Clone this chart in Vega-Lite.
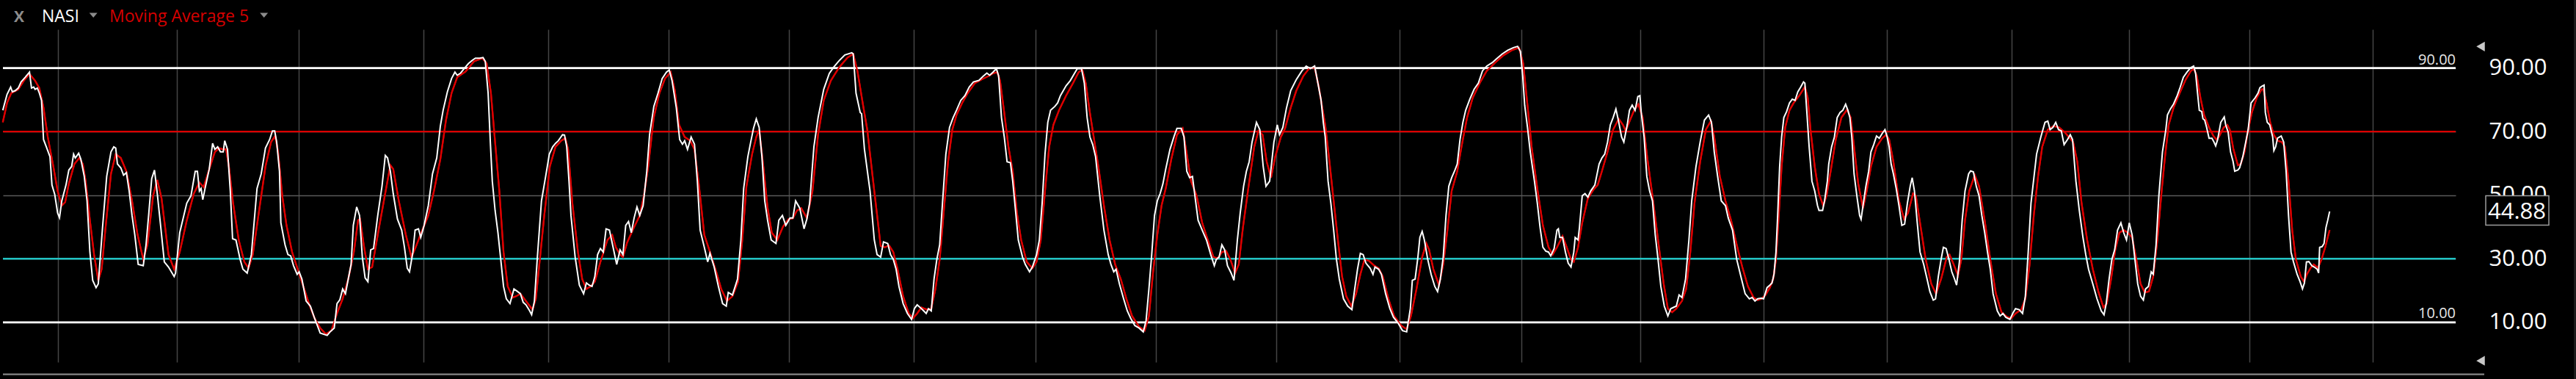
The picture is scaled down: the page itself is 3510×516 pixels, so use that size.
{
"$schema": "https://vega.github.io/schema/vega-lite/v6.json",
"width": 3342, "height": 453,
"autosize": {"type": "none"},
"padding": {"left": 4, "top": 40, "right": 164, "bottom": 23},
"background": "#000000",
"config": {"view": {"stroke": null}, "font": "Open Sans"},
"datasets": {
"nasi": [
{"t":3.8,"v":76.7},{"t":9.6,"v":81.7},{"t":14.5,"v":84.0},{"t":16.8,"v":82.5},{"t":21,"v":82.9},{"t":24.9,"v":83.7},{"t":28.7,"v":85.6},{"t":34.4,"v":87.1},{"t":40.2,"v":88.7},{"t":42.9,"v":83.7},{"t":45.9,"v":84.0},{"t":47.8,"v":83.3},{"t":50.9,"v":83.7},{"t":53.6,"v":82.1},{"t":56.6,"v":79.8},{"t":59.3,"v":67.5},{"t":63.1,"v":65.2},{"t":68.1,"v":62.1},{"t":70.8,"v":53.2},{"t":74.6,"v":50.2},{"t":78.5,"v":44.4},{"t":81.1,"v":42.9},{"t":84.2,"v":48.2},{"t":89.9,"v":53.2},{"t":93.8,"v":57.9},{"t":97.6,"v":59.0},{"t":100.3,"v":62.9},{"t":102.6,"v":61.7},{"t":107.2,"v":63.2},{"t":110.2,"v":61.3},{"t":114.8,"v":55.9},{"t":118.6,"v":48.2},{"t":122.5,"v":32.1},{"t":126.3,"v":23.2},{"t":130.9,"v":20.9},{"t":133.9,"v":22.1},{"t":139.7,"v":39.8},{"t":145.4,"v":55.9},{"t":151.2,"v":63.6},{"t":155,"v":65.2},{"t":157.7,"v":64.8},{"t":160,"v":59.8},{"t":164.6,"v":58.6},{"t":168.4,"v":56.3},{"t":172.2,"v":57.1},{"t":176,"v":51.3},{"t":179.9,"v":43.6},{"t":183.7,"v":37.5},{"t":188.3,"v":28.2},{"t":195.2,"v":27.8},{"t":199,"v":34.4},{"t":202.8,"v":44.4},{"t":206.7,"v":55.2},{"t":210.5,"v":57.9},{"t":214.3,"v":50.5},{"t":218.1,"v":42.1},{"t":223.9,"v":29.0},{"t":229.6,"v":27.4},{"t":237.3,"v":24.4},{"t":239.2,"v":25.5},{"t":244.9,"v":38.2},{"t":254.5,"v":47.5},{"t":260.2,"v":49.8},{"t":266,"v":57.5},{"t":269,"v":57.5},{"t":271.7,"v":51.3},{"t":274,"v":52.1},{"t":276.3,"v":48.6},{"t":279.4,"v":52.1},{"t":285.1,"v":58.2},{"t":289.7,"v":66.3},{"t":292.8,"v":64.4},{"t":296.6,"v":65.2},{"t":300.4,"v":63.6},{"t":304.2,"v":63.6},{"t":306.2,"v":67.1},{"t":310,"v":64.4},{"t":313.8,"v":51.3},{"t":316.9,"v":36.3},{"t":321.5,"v":35.9},{"t":327.2,"v":29.8},{"t":331,"v":26.7},{"t":336.8,"v":25.5},{"t":342.5,"v":31.3},{"t":350.2,"v":52.1},{"t":355.9,"v":56.7},{"t":361.7,"v":64.8},{"t":367.4,"v":67.5},{"t":371.2,"v":70.2},{"t":374.3,"v":70.2},{"t":377,"v":66.7},{"t":380.8,"v":57.5},{"t":382.7,"v":41.3},{"t":388.4,"v":34.4},{"t":392.3,"v":31.3},{"t":396.1,"v":30.9},{"t":400,"v":27.8},{"t":404.9,"v":25.1},{"t":407.6,"v":25.9},{"t":411.4,"v":23.6},{"t":417.1,"v":16.7},{"t":422.9,"v":15.1},{"t":428.6,"v":11.3},{"t":436.3,"v":6.6},{"t":445.8,"v":5.9},{"t":449.7,"v":7.0},{"t":455.4,"v":8.2},{"t":459.2,"v":15.9},{"t":463.1,"v":17.1},{"t":466.9,"v":20.5},{"t":470.7,"v":19.0},{"t":474.5,"v":23.6},{"t":478.4,"v":28.2},{"t":481.4,"v":40.5},{"t":486,"v":46.3},{"t":489.9,"v":43.6},{"t":493.7,"v":30.5},{"t":497.5,"v":24.0},{"t":501.3,"v":22.8},{"t":505.1,"v":32.8},{"t":509,"v":33.2},{"t":514.7,"v":43.6},{"t":520.5,"v":52.8},{"t":525,"v":62.5},{"t":528.1,"v":61.7},{"t":531.9,"v":57.5},{"t":535.8,"v":50.5},{"t":541.5,"v":42.5},{"t":547.3,"v":39.0},{"t":551.1,"v":33.6},{"t":554.9,"v":27.0},{"t":558,"v":25.9},{"t":562.6,"v":32.1},{"t":565.6,"v":39.0},{"t":570.2,"v":39.4},{"t":573.3,"v":36.7},{"t":577.9,"v":40.5},{"t":583.6,"v":46.7},{"t":589.3,"v":56.7},{"t":595.1,"v":61.7},{"t":600,"v":71.7},
{"t":603.8,"v":76.7},{"t":609.6,"v":82.5},{"t":615.3,"v":86.7},{"t":619.9,"v":88.7},{"t":623,"v":87.7},{"t":627.6,"v":88.4},{"t":632.5,"v":89.8},{"t":638.3,"v":91.4},{"t":644,"v":92.5},{"t":647.8,"v":93.1},{"t":653.6,"v":93.1},{"t":658.2,"v":93.3},{"t":661.2,"v":92.1},{"t":665.1,"v":82.1},{"t":668.1,"v":66.7},{"t":670.8,"v":54.4},{"t":674.6,"v":45.2},{"t":678.5,"v":38.2},{"t":682.3,"v":29.8},{"t":686.1,"v":21.3},{"t":689.9,"v":17.4},{"t":694.9,"v":15.9},{"t":700.3,"v":20.5},{"t":705.2,"v":19.7},{"t":709.1,"v":19.0},{"t":712.9,"v":16.3},{"t":716.7,"v":15.5},{"t":721.7,"v":13.6},{"t":724.4,"v":12.4},{"t":728.2,"v":16.7},{"t":732,"v":29.8},{"t":737.8,"v":48.2},{"t":743.5,"v":55.9},{"t":748.5,"v":62.9},{"t":753.1,"v":65.2},{"t":756.9,"v":66.3},{"t":760.7,"v":67.1},{"t":766.5,"v":69.0},{"t":769.2,"v":68.9},{"t":772.2,"v":65.2},{"t":775.3,"v":54.4},{"t":778,"v":43.6},{"t":783.7,"v":30.5},{"t":789.4,"v":21.7},{"t":795.2,"v":19.0},{"t":799,"v":22.4},{"t":802.8,"v":21.7},{"t":806.7,"v":21.3},{"t":810.5,"v":24.4},{"t":814.3,"v":31.3},{"t":818.1,"v":33.2},{"t":822,"v":32.1},{"t":825.8,"v":39.4},{"t":830.4,"v":39.0},{"t":835.4,"v":33.6},{"t":840.3,"v":28.2},{"t":844.9,"v":32.8},{"t":848.8,"v":31.3},{"t":852.6,"v":40.5},{"t":856.4,"v":41.7},{"t":860.2,"v":38.2},{"t":864,"v":42.8},{"t":867.9,"v":46.3},{"t":871.7,"v":43.6},{"t":876.3,"v":46.7},{"t":881.3,"v":57.5},{"t":885.1,"v":69.0},{"t":890.9,"v":77.9},{"t":896.6,"v":82.1},{"t":902.3,"v":86.7},{"t":908.1,"v":88.7},{"t":911.9,"v":89.4},{"t":915.7,"v":86.0},{"t":921.5,"v":77.5},{"t":926.1,"v":67.5},{"t":929.9,"v":66.0},{"t":932.9,"v":67.1},{"t":936.8,"v":64.4},{"t":941.7,"v":68.3},{"t":946.3,"v":66.0},{"t":950.2,"v":54.4},{"t":954,"v":39.0},{"t":959.7,"v":33.6},{"t":964.3,"v":29.0},{"t":967.4,"v":31.7},{"t":973.1,"v":27.4},{"t":978.9,"v":21.3},{"t":984.6,"v":15.9},{"t":989.6,"v":15.1},{"t":992.3,"v":19.4},{"t":998,"v":18.6},{"t":1004.9,"v":23.6},{"t":1009.5,"v":35.9},{"t":1013.3,"v":52.1},{"t":1019,"v":62.1},{"t":1022.9,"v":66.7},{"t":1026.7,"v":71.0},{"t":1030.5,"v":74.0},{"t":1034.4,"v":71.3},{"t":1038.2,"v":62.1},{"t":1042,"v":48.2},{"t":1045.9,"v":42.1},{"t":1050.8,"v":35.9},{"t":1057.3,"v":34.8},{"t":1061.2,"v":42.1},{"t":1066.1,"v":43.6},{"t":1070.7,"v":40.5},{"t":1076.5,"v":42.8},{"t":1080.3,"v":42.8},{"t":1084.1,"v":48.2},{"t":1089.8,"v":45.9},{"t":1095.6,"v":39.4},{"t":1099.4,"v":42.5},{"t":1103.2,"v":47.5},{"t":1109,"v":65.2},{"t":1114.7,"v":74.4},{"t":1122.4,"v":83.3},{"t":1130,"v":88.3},{"t":1135.8,"v":90.2},{"t":1143.4,"v":92.3},{"t":1151.1,"v":94.1},{"t":1160.7,"v":94.8},{"t":1162.6,"v":94.4},{"t":1166.4,"v":82.1},{"t":1172.1,"v":76.0},{"t":1174,"v":75.6},{"t":1177.9,"v":64.4},{"t":1185.5,"v":51.3},{"t":1191.3,"v":35.9},{"t":1195.1,"v":31.3},{"t":1200,"v":30.5},
{"t":1203.8,"v":35.3},{"t":1209.6,"v":34.8},{"t":1213.4,"v":31.3},{"t":1217.2,"v":29.8},{"t":1221,"v":26.7},{"t":1224.9,"v":21.3},{"t":1230.6,"v":15.9},{"t":1236.4,"v":12.8},{"t":1242.1,"v":10.9},{"t":1245.9,"v":14.3},{"t":1249.7,"v":15.5},{"t":1253.6,"v":14.7},{"t":1257.4,"v":13.9},{"t":1262,"v":12.8},{"t":1265.1,"v":14.3},{"t":1268.9,"v":13.6},{"t":1272.7,"v":23.6},{"t":1276.5,"v":29.8},{"t":1280.4,"v":34.4},{"t":1284.2,"v":47.5},{"t":1288.8,"v":62.9},{"t":1293.8,"v":71.3},{"t":1298.7,"v":74.4},{"t":1303.3,"v":76.7},{"t":1309.1,"v":79.8},{"t":1314.8,"v":81.3},{"t":1320.6,"v":84.0},{"t":1326.3,"v":85.6},{"t":1333.9,"v":86.1},{"t":1339.7,"v":87.4},{"t":1344.7,"v":88.4},{"t":1348.5,"v":87.7},{"t":1353.1,"v":88.7},{"t":1357.7,"v":89.8},{"t":1360.7,"v":87.5},{"t":1364.6,"v":74.4},{"t":1368.4,"v":68.3},{"t":1372.2,"v":60.5},{"t":1376.8,"v":60.2},{"t":1379.9,"v":54.4},{"t":1383.7,"v":45.2},{"t":1387.5,"v":35.9},{"t":1393.3,"v":30.5},{"t":1397.1,"v":28.2},{"t":1402.8,"v":25.9},{"t":1406.7,"v":27.4},{"t":1412.4,"v":31.3},{"t":1416.2,"v":35.9},{"t":1420,"v":47.5},{"t":1423.9,"v":62.9},{"t":1427.7,"v":72.9},{"t":1431.5,"v":76.7},{"t":1437.3,"v":77.9},{"t":1441.1,"v":79.0},{"t":1444.9,"v":81.3},{"t":1452.6,"v":84.4},{"t":1458.3,"v":86.0},{"t":1464,"v":88.3},{"t":1467.9,"v":89.8},{"t":1473.6,"v":89.8},{"t":1477.5,"v":85.2},{"t":1481.3,"v":74.4},{"t":1485.1,"v":68.3},{"t":1488.9,"v":65.9},{"t":1492.8,"v":62.1},{"t":1498.5,"v":49.8},{"t":1504.2,"v":39.0},{"t":1510,"v":31.3},{"t":1513.8,"v":28.2},{"t":1517.6,"v":25.9},{"t":1520.7,"v":26.7},{"t":1525.3,"v":22.1},{"t":1531,"v":17.4},{"t":1536,"v":13.6},{"t":1540.6,"v":11.3},{"t":1546.3,"v":9.0},{"t":1552.1,"v":8.2},{"t":1557.8,"v":7.0},{"t":1561.6,"v":10.5},{"t":1565.5,"v":20.5},{"t":1569.3,"v":31.3},{"t":1573.1,"v":43.6},{"t":1576.9,"v":48.2},{"t":1580.8,"v":50.5},{"t":1584.6,"v":53.6},{"t":1588.4,"v":58.2},{"t":1594.2,"v":64.4},{"t":1599.9,"v":68.6},{"t":1603.7,"v":71.0},{"t":1609.5,"v":71.0},{"t":1613.3,"v":68.3},{"t":1617.1,"v":57.5},{"t":1621,"v":55.5},{"t":1624.8,"v":55.9},{"t":1628.6,"v":49.0},{"t":1632.5,"v":42.1},{"t":1638.1,"v":39.0},{"t":1643.9,"v":35.9},{"t":1649.7,"v":31.3},{"t":1654.6,"v":27.8},{"t":1657.3,"v":29.8},{"t":1661.1,"v":30.5},{"t":1664.9,"v":34.4},{"t":1668.7,"v":32.8},{"t":1672.5,"v":27.8},{"t":1677.5,"v":25.5},{"t":1681.4,"v":23.2},{"t":1686,"v":35.9},{"t":1689.9,"v":44.4},{"t":1694.5,"v":52.8},{"t":1698.3,"v":57.5},{"t":1702.1,"v":60.5},{"t":1706,"v":66.7},{"t":1712,"v":72.9},{"t":1716.6,"v":70.6},{"t":1721.2,"v":59.0},{"t":1725,"v":52.8},{"t":1730,"v":54.4},{"t":1735.8,"v":66.7},{"t":1740.4,"v":72.1},{"t":1743.4,"v":69.0},{"t":1748,"v":71.3},{"t":1753,"v":77.5},{"t":1758.7,"v":82.9},{"t":1766.4,"v":86.4},{"t":1774,"v":89.1},{"t":1779.8,"v":90.6},{"t":1785.5,"v":89.8},{"t":1791.3,"v":90.6},{"t":1795.1,"v":86.0},{"t":1800,"v":80.0},
{"t":1803.1,"v":72.9},{"t":1805.7,"v":68.3},{"t":1809.6,"v":54.4},{"t":1813.4,"v":47.5},{"t":1817.2,"v":39.0},{"t":1821,"v":29.8},{"t":1824.9,"v":23.6},{"t":1830.6,"v":17.4},{"t":1836.4,"v":15.1},{"t":1842.1,"v":14.0},{"t":1845.9,"v":20.5},{"t":1849.7,"v":26.7},{"t":1853.6,"v":31.7},{"t":1857.4,"v":31.3},{"t":1861.2,"v":28.6},{"t":1867,"v":27.0},{"t":1870.8,"v":25.1},{"t":1873.5,"v":27.4},{"t":1878.5,"v":26.7},{"t":1882.3,"v":25.1},{"t":1888,"v":19.0},{"t":1893.8,"v":14.3},{"t":1898.7,"v":11.6},{"t":1905.2,"v":9.7},{"t":1911,"v":7.4},{"t":1916.7,"v":7.0},{"t":1921.7,"v":14.3},{"t":1924.4,"v":23.2},{"t":1928.2,"v":23.6},{"t":1932,"v":30.5},{"t":1934.7,"v":36.7},{"t":1937.8,"v":38.6},{"t":1940.8,"v":35.9},{"t":1945.4,"v":29.8},{"t":1950,"v":25.1},{"t":1955,"v":21.3},{"t":1958.8,"v":19.7},{"t":1962.6,"v":23.6},{"t":1966.5,"v":30.5},{"t":1970.3,"v":43.6},{"t":1974.1,"v":52.8},{"t":1978,"v":55.5},{"t":1981.8,"v":57.5},{"t":1985.6,"v":59.8},{"t":1989.4,"v":67.5},{"t":1993.3,"v":72.9},{"t":1997.1,"v":76.7},{"t":2002.8,"v":80.2},{"t":2008.6,"v":83.3},{"t":2014.3,"v":85.2},{"t":2020,"v":89.1},{"t":2025.8,"v":90.6},{"t":2033.4,"v":91.7},{"t":2039.2,"v":92.9},{"t":2046.8,"v":94.4},{"t":2054.5,"v":95.6},{"t":2062.1,"v":96.4},{"t":2067.9,"v":96.8},{"t":2071.7,"v":95.2},{"t":2074.8,"v":87.5},{"t":2077.5,"v":78.3},{"t":2081.3,"v":71.3},{"t":2085.1,"v":63.6},{"t":2090.8,"v":54.4},{"t":2094.7,"v":47.5},{"t":2098.5,"v":39.8},{"t":2102.3,"v":33.6},{"t":2106.2,"v":32.4},{"t":2110,"v":32.1},{"t":2113,"v":30.9},{"t":2117.6,"v":33.2},{"t":2121.5,"v":39.0},{"t":2123.4,"v":39.4},{"t":2125.3,"v":36.7},{"t":2129.1,"v":36.7},{"t":2133,"v":32.1},{"t":2136.8,"v":28.6},{"t":2140.6,"v":27.4},{"t":2144.4,"v":32.1},{"t":2146.3,"v":36.7},{"t":2150.2,"v":35.9},{"t":2152.1,"v":39.8},{"t":2155.9,"v":49.8},{"t":2159.7,"v":50.5},{"t":2163.6,"v":49.4},{"t":2167.4,"v":51.3},{"t":2173.1,"v":53.2},{"t":2178.9,"v":59.8},{"t":2182.7,"v":61.7},{"t":2186.5,"v":62.9},{"t":2190.4,"v":66.7},{"t":2194.2,"v":72.1},{"t":2198,"v":74.4},{"t":2201.8,"v":77.1},{"t":2205.7,"v":72.9},{"t":2209.5,"v":68.3},{"t":2212.6,"v":66.7},{"t":2217.2,"v":72.1},{"t":2220.3,"v":76.7},{"t":2224,"v":78.3},{"t":2227.9,"v":76.7},{"t":2231.7,"v":81.0},{"t":2234.4,"v":81.3},{"t":2236.3,"v":76.0},{"t":2240.2,"v":68.3},{"t":2243.9,"v":55.9},{"t":2247.7,"v":51.3},{"t":2251.6,"v":48.2},{"t":2255.4,"v":37.5},{"t":2259.2,"v":29.8},{"t":2263,"v":21.3},{"t":2267.7,"v":15.1},{"t":2272.6,"v":12.0},{"t":2276.5,"v":14.3},{"t":2280.3,"v":14.7},{"t":2284.1,"v":15.1},{"t":2287.9,"v":18.6},{"t":2291.8,"v":17.8},{"t":2296.7,"v":23.6},{"t":2301.3,"v":35.9},{"t":2305.1,"v":48.2},{"t":2310.9,"v":59.0},{"t":2316.6,"v":66.7},{"t":2322.4,"v":73.6},{"t":2328.1,"v":75.2},{"t":2332,"v":72.9},{"t":2335.8,"v":63.6},{"t":2340.4,"v":55.9},{"t":2345.4,"v":48.2},{"t":2351.1,"v":46.7},{"t":2354.9,"v":42.8},{"t":2360.7,"v":39.0},{"t":2366.4,"v":29.8},{"t":2372.1,"v":24.4},{"t":2377.9,"v":19.0},{"t":2383.6,"v":17.4},{"t":2387.4,"v":17.8},{"t":2391.3,"v":16.7},{"t":2395.1,"v":17.4},{"t":2400,"v":17.6},
{"t":2403.1,"v":17.4},{"t":2407.7,"v":20.9},{"t":2411.5,"v":21.7},{"t":2414.5,"v":22.4},{"t":2417.2,"v":25.1},{"t":2419.9,"v":32.1},{"t":2422.2,"v":43.6},{"t":2424.9,"v":59.0},{"t":2427.6,"v":68.3},{"t":2430.6,"v":74.4},{"t":2434.4,"v":76.3},{"t":2438.3,"v":79.0},{"t":2442.1,"v":80.2},{"t":2445.9,"v":79.8},{"t":2449.7,"v":82.5},{"t":2453.6,"v":84.0},{"t":2457.4,"v":85.6},{"t":2459.3,"v":85.2},{"t":2462,"v":76.0},{"t":2465.1,"v":65.2},{"t":2468.9,"v":54.4},{"t":2472.7,"v":51.3},{"t":2476.5,"v":46.7},{"t":2478.5,"v":45.2},{"t":2483.4,"v":45.2},{"t":2486.1,"v":48.2},{"t":2489.9,"v":54.4},{"t":2491.8,"v":59.8},{"t":2495.7,"v":65.2},{"t":2499.5,"v":68.3},{"t":2503.3,"v":74.4},{"t":2507.2,"v":76.0},{"t":2511,"v":76.7},{"t":2514.8,"v":78.6},{"t":2517.9,"v":76.7},{"t":2520.6,"v":74.4},{"t":2523.2,"v":68.3},{"t":2526.3,"v":56.7},{"t":2530.1,"v":49.8},{"t":2533.9,"v":43.6},{"t":2535.9,"v":42.4},{"t":2538.5,"v":46.7},{"t":2542.4,"v":52.8},{"t":2546.2,"v":57.5},{"t":2549.3,"v":63.6},{"t":2553.1,"v":65.9},{"t":2556.9,"v":68.6},{"t":2560.7,"v":67.9},{"t":2564.6,"v":69.4},{"t":2568.4,"v":70.6},{"t":2571.4,"v":68.3},{"t":2574.1,"v":65.2},{"t":2576.8,"v":59.8},{"t":2579.9,"v":56.7},{"t":2583.7,"v":52.1},{"t":2587.5,"v":46.7},{"t":2591.4,"v":40.5},{"t":2595.2,"v":40.9},{"t":2599,"v":47.5},{"t":2602.8,"v":52.8},{"t":2605.5,"v":55.5},{"t":2608.6,"v":51.3},{"t":2612.4,"v":41.3},{"t":2616.2,"v":32.1},{"t":2621.2,"v":28.2},{"t":2625.8,"v":23.6},{"t":2629.6,"v":19.7},{"t":2634.2,"v":17.0},{"t":2637.3,"v":17.4},{"t":2641.1,"v":24.4},{"t":2644.9,"v":29.8},{"t":2648,"v":33.6},{"t":2651.8,"v":33.2},{"t":2655.6,"v":29.8},{"t":2659.5,"v":25.9},{"t":2663.3,"v":23.6},{"t":2666,"v":21.7},{"t":2669.8,"v":29.0},{"t":2673.6,"v":42.1},{"t":2677.5,"v":51.3},{"t":2682.4,"v":56.7},{"t":2685.1,"v":57.6},{"t":2688.9,"v":57.3},{"t":2692.8,"v":52.8},{"t":2696.6,"v":49.8},{"t":2700.4,"v":43.6},{"t":2704.3,"v":38.2},{"t":2708.1,"v":32.1},{"t":2711.9,"v":26.7},{"t":2715.7,"v":19.0},{"t":2721.5,"v":13.6},{"t":2725.3,"v":12.0},{"t":2729.1,"v":12.8},{"t":2733,"v":11.6},{"t":2738.7,"v":10.9},{"t":2742.5,"v":12.8},{"t":2746.3,"v":14.3},{"t":2751.3,"v":14.0},{"t":2755.9,"v":12.8},{"t":2759.7,"v":18.2},{"t":2763.6,"v":32.1},{"t":2767.4,"v":47.5},{"t":2771.2,"v":55.2},{"t":2775,"v":62.9},{"t":2780.8,"v":68.3},{"t":2786.5,"v":72.9},{"t":2790.3,"v":73.3},{"t":2793.4,"v":70.6},{"t":2797.2,"v":71.3},{"t":2801.1,"v":72.9},{"t":2804.9,"v":70.6},{"t":2808.7,"v":70.2},{"t":2812.5,"v":65.9},{"t":2817.1,"v":67.5},{"t":2820.9,"v":69.0},{"t":2824,"v":67.5},{"t":2828.6,"v":54.4},{"t":2833.2,"v":45.2},{"t":2838.2,"v":36.7},{"t":2842,"v":31.3},{"t":2845.8,"v":26.7},{"t":2851.6,"v":22.1},{"t":2857.3,"v":17.4},{"t":2863.1,"v":13.6},{"t":2866.9,"v":12.4},{"t":2869.9,"v":15.9},{"t":2873.8,"v":23.6},{"t":2877.6,"v":29.8},{"t":2881.4,"v":32.8},{"t":2885.3,"v":39.0},{"t":2889.9,"v":41.3},{"t":2893.7,"v":38.2},{"t":2897.5,"v":35.9},{"t":2901.3,"v":41.3},{"t":2905.2,"v":37.5},{"t":2909,"v":29.8},{"t":2912.8,"v":22.1},{"t":2916.7,"v":18.2},{"t":2920.5,"v":17.0},{"t":2923.5,"v":20.5},{"t":2927.4,"v":21.3},{"t":2931.2,"v":25.9},{"t":2933.9,"v":25.1},{"t":2937.8,"v":34.4},{"t":2941.6,"v":49.8},{"t":2946.5,"v":63.6},{"t":2951.1,"v":70.6},
{"t":2953.3,"v":75.2},{"t":2957.3,"v":77.1},{"t":2961.7,"v":78.7},{"t":2966.7,"v":81.4},{"t":2970.7,"v":84.0},{"t":2975,"v":87.1},{"t":2980,"v":88.7},{"t":2985,"v":90.1},{"t":2989,"v":90.6},{"t":2991.7,"v":88.3},{"t":2994.3,"v":82.1},{"t":2996.7,"v":76.7},{"t":3000,"v":76.3},{"t":3001.7,"v":74.0},{"t":3004,"v":73.6},{"t":3006.7,"v":71.3},{"t":3010,"v":67.9},{"t":3014,"v":67.9},{"t":3016.7,"v":66.7},{"t":3019,"v":65.5},{"t":3021.7,"v":67.5},{"t":3026,"v":72.9},{"t":3030.7,"v":74.6},{"t":3032.7,"v":72.1},{"t":3036,"v":69.8},{"t":3039.3,"v":63.6},{"t":3042.7,"v":60.6},{"t":3045,"v":57.5},{"t":3049.3,"v":57.9},{"t":3051.7,"v":58.6},{"t":3056,"v":62.1},{"t":3060,"v":66.7},{"t":3063.3,"v":70.6},{"t":3067.3,"v":79.0},{"t":3072.7,"v":80.6},{"t":3076.7,"v":82.1},{"t":3079.3,"v":83.8},{"t":3081.7,"v":84.2},{"t":3085,"v":84.6},{"t":3086.7,"v":76.0},{"t":3089.3,"v":72.9},{"t":3092.7,"v":72.1},{"t":3096.7,"v":68.3},{"t":3098.3,"v":64.0},{"t":3100.7,"v":65.2},{"t":3103.3,"v":67.9},{"t":3108.3,"v":68.6},{"t":3111.7,"v":66.7},{"t":3115,"v":57.5},{"t":3118.3,"v":43.6},{"t":3121.7,"v":32.1},{"t":3125,"v":29.0},{"t":3130,"v":25.1},{"t":3134,"v":22.8},{"t":3137.3,"v":20.5},{"t":3140,"v":22.4},{"t":3142.7,"v":29.0},{"t":3146,"v":29.1},{"t":3150,"v":27.8},{"t":3153.3,"v":27.4},{"t":3157.3,"v":26.7},{"t":3159.3,"v":25.5},{"t":3160.7,"v":33.6},{"t":3164,"v":33.8},{"t":3166.7,"v":34.8},{"t":3169.3,"v":39.8},{"t":3171.7,"v":42.1},{"t":3174.3,"v":44.88}
],
"ma": [
{"t":3.8,"v":72.9},{"t":9.6,"v":79.0},{"t":15.3,"v":82.1},{"t":24.9,"v":83.3},{"t":32.5,"v":86.0},{"t":40.2,"v":88.1},{"t":47.8,"v":86.0},{"t":53.6,"v":83.7},{"t":59.3,"v":77.5},{"t":65.1,"v":68.3},{"t":72.7,"v":59.0},{"t":78.5,"v":51.3},{"t":84.2,"v":46.7},{"t":88.8,"v":47.8},{"t":93.8,"v":53.6},{"t":101.4,"v":59.8},{"t":107.9,"v":61.7},{"t":112.9,"v":59.8},{"t":116.7,"v":54.4},{"t":122.5,"v":42.1},{"t":128.2,"v":31.3},{"t":133.9,"v":23.2},{"t":138.5,"v":26.7},{"t":143.5,"v":39.0},{"t":151.2,"v":56.7},{"t":157.7,"v":62.9},{"t":164.6,"v":61.7},{"t":172.2,"v":57.5},{"t":179.9,"v":48.2},{"t":187.5,"v":37.5},{"t":195.2,"v":29.8},{"t":200.9,"v":34.4},{"t":208.6,"v":49.8},{"t":214.3,"v":54.8},{"t":220.1,"v":49.0},{"t":229.6,"v":31.3},{"t":237.3,"v":26.7},{"t":244.9,"v":32.1},{"t":254.5,"v":42.1},{"t":264.1,"v":50.5},{"t":271.7,"v":54.0},{"t":277.5,"v":52.5},{"t":285.1,"v":58.2},{"t":292.8,"v":63.6},{"t":298.5,"v":64.8},{"t":304.2,"v":64.4},{"t":308.1,"v":64.4},{"t":311.9,"v":59.0},{"t":317.6,"v":47.5},{"t":325.3,"v":35.9},{"t":332.9,"v":29.0},{"t":338.7,"v":27.1},{"t":344.4,"v":31.3},{"t":352.1,"v":43.6},{"t":361.7,"v":59.0},{"t":369.3,"v":66.7},{"t":375,"v":68.6},{"t":378.9,"v":63.6},{"t":384.6,"v":49.8},{"t":390.4,"v":40.5},{"t":398,"v":32.1},{"t":405.7,"v":26.7},{"t":413.3,"v":21.3},{"t":421,"v":15.9},{"t":428.6,"v":11.3},{"t":436.3,"v":8.2},{"t":443.9,"v":6.3},{"t":451.6,"v":7.4},{"t":459.2,"v":12.8},{"t":466.9,"v":17.4},{"t":474.5,"v":23.6},{"t":482.2,"v":32.1},{"t":487.9,"v":42.1},{"t":490.6,"v":42.5},{"t":495.6,"v":34.4},{"t":501.3,"v":26.7},{"t":507.1,"v":27.4},{"t":514.7,"v":37.5},{"t":524.3,"v":49.8},{"t":531.9,"v":59.4},{"t":535.8,"v":58.2},{"t":543.4,"v":48.2},{"t":553,"v":37.5},{"t":560.6,"v":30.5},{"t":566.4,"v":33.6},{"t":574,"v":38.2},{"t":583.6,"v":43.6},{"t":591.3,"v":51.3},{"t":600,"v":61.3},{"t":607.7,"v":73.6},{"t":615.3,"v":82.1},{"t":623,"v":87.1},{"t":634.4,"v":88.9},{"t":645.9,"v":92.1},{"t":657.4,"v":93.1},{"t":663.1,"v":91.4},{"t":668.9,"v":82.1},{"t":674.6,"v":66.7},{"t":680.4,"v":51.3},{"t":686.1,"v":32.1},{"t":691.8,"v":21.3},{"t":698.7,"v":17.8},{"t":703.3,"v":18.2},{"t":709.1,"v":19.0},{"t":716.7,"v":16.7},{"t":725.5,"v":14.0},{"t":730.1,"v":17.4},{"t":735.9,"v":30.5},{"t":741.6,"v":43.6},{"t":749.2,"v":59.0},{"t":756.9,"v":65.2},{"t":764.6,"v":67.1},{"t":770.3,"v":67.9},{"t":774.1,"v":64.4},{"t":779.9,"v":47.5},{"t":787.5,"v":32.1},{"t":793.3,"v":23.6},{"t":799,"v":20.5},{"t":804.7,"v":21.3},{"t":810.5,"v":22.8},{"t":818.1,"v":29.0},{"t":827.7,"v":35.9},{"t":834.2,"v":37.5},{"t":839.2,"v":33.6},{"t":844.9,"v":31.3},{"t":848.8,"v":30.5},{"t":854.5,"v":35.1},{"t":862.1,"v":39.0},{"t":871.7,"v":43.6},{"t":877.4,"v":49.8},{"t":883.2,"v":59.0},{"t":890.8,"v":74.4},{"t":898.5,"v":82.1},{"t":906.2,"v":86.7},{"t":913.8,"v":88.7},{"t":919.5,"v":82.9},{"t":925.3,"v":72.1},{"t":932.9,"v":68.3},{"t":940.6,"v":67.1},{"t":946.3,"v":64.4},{"t":952.1,"v":53.6},{"t":959.7,"v":37.5},{"t":967.4,"v":32.1},{"t":977,"v":25.1},{"t":982.7,"v":20.5},{"t":990.5,"v":16.7},{"t":998,"v":18.2},{"t":1005.7,"v":22.8},{"t":1011.4,"v":35.9},{"t":1017.1,"v":52.8},{"t":1024.8,"v":62.9},{"t":1030.5,"v":68.3},{"t":1034.4,"v":70.6},{"t":1040.1,"v":59.0},{"t":1045.9,"v":46.0},{"t":1051.6,"v":38.2},{"t":1059.2,"v":35.9},{"t":1066.9,"v":40.1},{"t":1074.5,"v":42.5},{"t":1080.3,"v":42.7},{"t":1086,"v":45.2},{"t":1091.8,"v":45.9},{"t":1099.4,"v":42.8},{"t":1107.1,"v":51.3},{"t":1114.7,"v":69.0},{"t":1122.4,"v":79.8},{"t":1132,"v":86.0},{"t":1143.4,"v":90.2},{"t":1154.9,"v":93.3},{"t":1162.6,"v":94.4},{"t":1168.3,"v":89.1},{"t":1176,"v":78.3},{"t":1181.7,"v":70.6},{"t":1191.3,"v":51.3},{"t":1200,"v":34.0},
{"t":1205.7,"v":33.6},{"t":1211.5,"v":34.2},{"t":1217.2,"v":32.1},{"t":1223,"v":26.7},{"t":1230.6,"v":18.2},{"t":1238.3,"v":12.8},{"t":1244,"v":11.3},{"t":1249.7,"v":12.8},{"t":1255.5,"v":14.7},{"t":1263.1,"v":14.0},{"t":1268.9,"v":14.3},{"t":1274.6,"v":20.5},{"t":1280.4,"v":29.8},{"t":1286.1,"v":45.2},{"t":1291.8,"v":60.5},{"t":1297.6,"v":70.6},{"t":1303.3,"v":75.2},{"t":1311,"v":79.0},{"t":1318.6,"v":82.1},{"t":1328.2,"v":85.2},{"t":1337.8,"v":86.4},{"t":1347.3,"v":87.5},{"t":1353.1,"v":88.3},{"t":1358.8,"v":88.7},{"t":1362.6,"v":86.0},{"t":1368.4,"v":75.9},{"t":1374.1,"v":65.2},{"t":1379.9,"v":57.5},{"t":1385.6,"v":44.4},{"t":1391.4,"v":35.9},{"t":1399,"v":29.0},{"t":1406.7,"v":27.0},{"t":1412.4,"v":29.0},{"t":1418.1,"v":35.9},{"t":1423.9,"v":51.3},{"t":1429.6,"v":65.2},{"t":1435.3,"v":72.1},{"t":1443,"v":76.7},{"t":1452.6,"v":81.3},{"t":1462.1,"v":85.2},{"t":1469.8,"v":88.7},{"t":1474.8,"v":89.4},{"t":1479.4,"v":85.2},{"t":1485.1,"v":75.9},{"t":1490.8,"v":67.5},{"t":1496.6,"v":59.0},{"t":1504.2,"v":46.7},{"t":1511.9,"v":35.9},{"t":1519.5,"v":28.2},{"t":1527.2,"v":23.6},{"t":1534.8,"v":17.4},{"t":1542.5,"v":12.0},{"t":1552.1,"v":8.6},{"t":1559.7,"v":7.4},{"t":1565.5,"v":12.0},{"t":1571.2,"v":25.9},{"t":1576.9,"v":37.5},{"t":1582.7,"v":46.7},{"t":1588.4,"v":52.1},{"t":1596,"v":61.3},{"t":1603.7,"v":69.0},{"t":1611.4,"v":71.0},{"t":1617.1,"v":62.9},{"t":1622.9,"v":54.4},{"t":1630.5,"v":49.8},{"t":1638.1,"v":41.3},{"t":1645.8,"v":35.9},{"t":1653.5,"v":30.5},{"t":1659.2,"v":30.1},{"t":1665,"v":32.1},{"t":1670.7,"v":32.4},{"t":1676.4,"v":29.8},{"t":1683,"v":25.5},{"t":1687.9,"v":28.2},{"t":1693.6,"v":39.8},{"t":1701.3,"v":52.8},{"t":1709,"v":65.2},{"t":1714.7,"v":70.2},{"t":1720.4,"v":69.0},{"t":1726,"v":60.5},{"t":1731.9,"v":55.5},{"t":1737.6,"v":62.1},{"t":1745.3,"v":68.3},{"t":1751,"v":71.0},{"t":1758.7,"v":77.5},{"t":1766.4,"v":82.9},{"t":1776,"v":87.5},{"t":1783.6,"v":89.8},{"t":1791.3,"v":90.2},{"t":1797,"v":84.0},{"t":1800,"v":79.8},
{"t":1805.7,"v":72.1},{"t":1811.5,"v":60.5},{"t":1817.2,"v":48.2},{"t":1823,"v":35.9},{"t":1828.7,"v":24.4},{"t":1834.4,"v":18.2},{"t":1841.3,"v":15.1},{"t":1847.8,"v":19.0},{"t":1853.6,"v":25.1},{"t":1859.3,"v":29.8},{"t":1865.1,"v":29.4},{"t":1872.7,"v":27.8},{"t":1878.5,"v":27.0},{"t":1884.2,"v":24.4},{"t":1891.8,"v":17.4},{"t":1899.5,"v":12.0},{"t":1909.1,"v":9.0},{"t":1916.7,"v":7.8},{"t":1922.5,"v":12.0},{"t":1930.1,"v":20.5},{"t":1937.8,"v":30.5},{"t":1943.5,"v":34.8},{"t":1947.3,"v":32.8},{"t":1953.1,"v":26.7},{"t":1960.7,"v":21.7},{"t":1966.5,"v":28.2},{"t":1972.2,"v":39.0},{"t":1978,"v":51.3},{"t":1985.6,"v":57.5},{"t":1991.4,"v":65.2},{"t":1999,"v":74.4},{"t":2006.7,"v":80.6},{"t":2016.2,"v":85.2},{"t":2025.8,"v":89.1},{"t":2037.3,"v":91.7},{"t":2048.8,"v":94.0},{"t":2060.2,"v":95.6},{"t":2069.8,"v":96.4},{"t":2075.5,"v":91.4},{"t":2081.3,"v":78.3},{"t":2087,"v":65.2},{"t":2094.7,"v":52.1},{"t":2102.3,"v":40.5},{"t":2110,"v":33.6},{"t":2115.7,"v":31.3},{"t":2121.5,"v":33.6},{"t":2129.1,"v":37.1},{"t":2134.8,"v":33.6},{"t":2140.6,"v":29.8},{"t":2144.4,"v":29.0},{"t":2150.2,"v":33.6},{"t":2155.9,"v":41.3},{"t":2163.6,"v":49.0},{"t":2171.2,"v":51.7},{"t":2177,"v":53.2},{"t":2182.7,"v":57.5},{"t":2190.4,"v":63.6},{"t":2198,"v":70.6},{"t":2205.7,"v":74.0},{"t":2211.4,"v":72.1},{"t":2215.2,"v":70.2},{"t":2221,"v":73.6},{"t":2226.7,"v":76.7},{"t":2232.4,"v":78.6},{"t":2238.2,"v":74.4},{"t":2243.9,"v":62.9},{"t":2251.6,"v":49.8},{"t":2259.2,"v":35.9},{"t":2266.9,"v":22.1},{"t":2272.6,"v":14.3},{"t":2278.4,"v":13.2},{"t":2284.1,"v":14.3},{"t":2291.8,"v":16.7},{"t":2297.5,"v":20.5},{"t":2303.2,"v":32.1},{"t":2308.9,"v":47.5},{"t":2316.6,"v":60.5},{"t":2324.3,"v":70.6},{"t":2331.2,"v":73.3},{"t":2335.8,"v":68.3},{"t":2343.4,"v":55.9},{"t":2351.1,"v":48.2},{"t":2358.7,"v":42.1},{"t":2366.4,"v":34.4},{"t":2374,"v":27.4},{"t":2381.7,"v":21.3},{"t":2389.3,"v":17.8},{"t":2395.1,"v":17.0},{"t":2400,"v":17.4},
{"t":2405.7,"v":18.6},{"t":2411.5,"v":20.9},{"t":2416.1,"v":23.6},{"t":2419.9,"v":29.8},{"t":2423.7,"v":43.6},{"t":2427.6,"v":59.0},{"t":2432.5,"v":71.3},{"t":2438.3,"v":76.7},{"t":2444,"v":79.0},{"t":2451.7,"v":81.3},{"t":2459.3,"v":84.0},{"t":2463.2,"v":80.6},{"t":2467,"v":70.6},{"t":2472.7,"v":59.0},{"t":2478.5,"v":50.5},{"t":2484.2,"v":46.7},{"t":2488.8,"v":49.8},{"t":2494.9,"v":58.2},{"t":2501.4,"v":67.5},{"t":2509.1,"v":74.4},{"t":2516.7,"v":76.9},{"t":2521.7,"v":74.4},{"t":2526.3,"v":65.2},{"t":2532,"v":53.6},{"t":2538.5,"v":45.9},{"t":2543.5,"v":51.3},{"t":2549.3,"v":59.0},{"t":2556.9,"v":65.2},{"t":2564.6,"v":67.9},{"t":2570.3,"v":69.0},{"t":2574.1,"v":67.5},{"t":2579.9,"v":60.5},{"t":2587.5,"v":48.2},{"t":2594.4,"v":42.5},{"t":2599.8,"v":44.4},{"t":2606.7,"v":50.5},{"t":2610.5,"v":49.8},{"t":2616.2,"v":41.3},{"t":2623.9,"v":29.8},{"t":2631.5,"v":22.1},{"t":2638,"v":19.0},{"t":2644.9,"v":23.6},{"t":2652.6,"v":30.5},{"t":2656.4,"v":31.3},{"t":2662.1,"v":28.2},{"t":2667.9,"v":24.7},{"t":2672.5,"v":29.8},{"t":2677.5,"v":42.1},{"t":2683.2,"v":51.3},{"t":2690.8,"v":56.3},{"t":2696.6,"v":52.8},{"t":2704.3,"v":42.1},{"t":2711.9,"v":29.8},{"t":2719.6,"v":19.0},{"t":2727.2,"v":13.2},{"t":2734.9,"v":11.7},{"t":2740.6,"v":11.3},{"t":2746.3,"v":12.8},{"t":2754,"v":14.0},{"t":2759.7,"v":17.4},{"t":2765.5,"v":28.2},{"t":2771.2,"v":43.6},{"t":2777,"v":55.9},{"t":2782.7,"v":65.2},{"t":2790.3,"v":70.6},{"t":2798,"v":71.7},{"t":2805.7,"v":71.3},{"t":2813.3,"v":69.8},{"t":2819,"v":68.3},{"t":2824.8,"v":66.7},{"t":2830.5,"v":60.5},{"t":2836.3,"v":47.5},{"t":2843.9,"v":35.9},{"t":2851.6,"v":26.7},{"t":2859.2,"v":19.7},{"t":2866.1,"v":14.7},{"t":2870.7,"v":15.9},{"t":2876.5,"v":23.6},{"t":2882.2,"v":32.8},{"t":2887.9,"v":38.2},{"t":2893.7,"v":39.0},{"t":2899.4,"v":38.2},{"t":2905.2,"v":36.7},{"t":2910.9,"v":29.8},{"t":2916.7,"v":22.1},{"t":2922.4,"v":19.4},{"t":2928.1,"v":19.7},{"t":2933.9,"v":24.4},{"t":2939.6,"v":35.9},{"t":2945.4,"v":51.3},{"t":2950,"v":62.1},
{"t":2955,"v":72.1},{"t":2961.7,"v":77.5},{"t":2970,"v":82.1},{"t":2978.3,"v":86.4},{"t":2985,"v":89.0},{"t":2989.3,"v":89.8},{"t":2993.3,"v":87.5},{"t":2998.3,"v":80.6},{"t":3003.3,"v":75.2},{"t":3010,"v":71.3},{"t":3016,"v":68.6},{"t":3020,"v":67.5},{"t":3023.3,"v":68.3},{"t":3030,"v":71.3},{"t":3035,"v":72.1},{"t":3038.3,"v":70.6},{"t":3043.3,"v":64.4},{"t":3049.3,"v":59.4},{"t":3053.3,"v":59.8},{"t":3058.3,"v":63.6},{"t":3063.3,"v":70.6},{"t":3068.3,"v":76.0},{"t":3075,"v":80.6},{"t":3081.7,"v":83.3},{"t":3084,"v":83.3},{"t":3088.3,"v":79.0},{"t":3093.3,"v":72.9},{"t":3098.3,"v":69.0},{"t":3103.3,"v":67.1},{"t":3109.3,"v":66.7},{"t":3113.3,"v":65.2},{"t":3118.3,"v":54.4},{"t":3123.3,"v":39.0},{"t":3128.3,"v":29.8},{"t":3135,"v":24.4},{"t":3139.3,"v":22.8},{"t":3143.3,"v":25.1},{"t":3148.3,"v":27.1},{"t":3152.7,"v":28.2},{"t":3155,"v":27.8},{"t":3158.3,"v":27.1},{"t":3163.3,"v":29.8},{"t":3168.3,"v":33.6},{"t":3171.7,"v":36.7},{"t":3174.3,"v":39.0}
],
"last": [{"v": 44.88}]
},
"layer": [
{"data": {"name": "ma"},
 "mark": {"type": "line", "color": "#dc0000", "strokeWidth": 2.2},
 "encoding": {
  "x": {"field": "t", "type": "quantitative", "scale": {"domain": [4, 3346], "nice": false, "zero": false},
        "axis": {"title": null, "orient": "bottom", "values": [78.8,240.7,406.8,576.7,747,910.8,1075,1245.2,1410.9,1574.7,1738.8,1906.8,2072.9,2234.7,2403.1,2570.7,2741,2901,3065,3232.7],
                 "grid": true, "gridColor": "#454545", "gridWidth": 1.5, "labels": false, "ticks": false, "domain": false}},
  "y": {"field": "v", "type": "quantitative", "scale": {"domain": [-2.51, 102.14], "nice": false, "zero": false},
        "axis": {"title": null, "orient": "right", "values": [10,30,50,70,90], "format": ".2f",
                 "labelFont": "Open Sans", "labelFontSize": 31, "labelColor": "#ffffff", "labelPadding": 45,
                 "ticks": false, "tickSize": 0, "domain": false, "grid": true, "gridColor": "#5a5a5a", "gridWidth": 1.7, "labelOverlap": false}}
 }},
{"data": {"name": "last"}, "mark": {"type": "rule", "color": "#ffffff", "strokeWidth": 2.7}, "encoding": {"y": {"datum": 90, "type": "quantitative"}}},
{"data": {"name": "last"}, "mark": {"type": "rule", "color": "#ffffff", "strokeWidth": 2.7}, "encoding": {"y": {"datum": 10, "type": "quantitative"}}},
{"data": {"name": "last"}, "mark": {"type": "rule", "color": "#dc0000", "strokeWidth": 2.4}, "encoding": {"y": {"datum": 70, "type": "quantitative"}}},
{"data": {"name": "last"}, "mark": {"type": "rule", "color": "#22c4c4", "strokeWidth": 2.4}, "encoding": {"y": {"datum": 30, "type": "quantitative"}}},
{"data": {"name": "ma"},
 "mark": {"type": "line", "color": "#dc0000", "strokeWidth": 2.2},
 "encoding": {"x": {"field": "t", "type": "quantitative"}, "y": {"field": "v", "type": "quantitative"}}},
{"data": {"name": "nasi"},
 "mark": {"type": "line", "color": "#ffffff", "strokeWidth": 2},
 "encoding": {"x": {"field": "t", "type": "quantitative"}, "y": {"field": "v", "type": "quantitative"}}},
{"data": {"name": "last"}, "mark": {"type": "text", "align": "right", "baseline": "alphabetic", "dy": -5, "fontSize": 20, "color": "#e6e6e6", "font": "Open Sans"},
 "encoding": {"x": {"datum": 3346, "type": "quantitative"}, "y": {"datum": 90, "type": "quantitative"}, "text": {"value": "90.00"}}},
{"data": {"name": "last"}, "mark": {"type": "text", "align": "right", "baseline": "alphabetic", "dy": -6, "fontSize": 20, "color": "#e6e6e6", "font": "Open Sans"},
 "encoding": {"x": {"datum": 3346, "type": "quantitative"}, "y": {"datum": 10, "type": "quantitative"}, "text": {"value": "10.00"}}},
{"data": {"name": "last"}, "mark": {"type": "rule", "color": "#858585", "strokeWidth": 2.3},
 "encoding": {"x": {"datum": 4, "type": "quantitative"}, "x2": {"datum": 3385}, "y": {"datum": -6.33, "type": "quantitative"}}},
{"data": {"name": "last"}, "mark": {"type": "point", "shape": "triangle-left", "filled": true, "color": "#c8c8c8", "size": 175, "opacity": 1},
 "encoding": {"x": {"datum": 3380, "type": "quantitative"}, "y": {"datum": 96.76, "type": "quantitative"}}},
{"data": {"name": "last"}, "mark": {"type": "point", "shape": "triangle-left", "filled": true, "color": "#c8c8c8", "size": 175, "opacity": 1},
 "encoding": {"x": {"datum": 3380, "type": "quantitative"}, "y": {"datum": -2.1, "type": "quantitative"}}},
{"data": {"name": "last"},
 "mark": {"type": "rect", "fill": "#000000", "stroke": "#9c9c9c", "strokeWidth": 1.5},
 "encoding": {"x": {"datum": 3387, "type": "quantitative"}, "x2": {"datum": 3473}, "y": {"datum": 49.8, "type": "quantitative"}, "y2": {"datum": 40.55}}},
{"data": {"name": "last"},
 "mark": {"type": "text", "align": "center", "baseline": "middle", "dy": 1, "fontSize": 31, "color": "#ffffff", "font": "Open Sans"},
 "encoding": {"x": {"datum": 3429.5, "type": "quantitative"}, "y": {"field": "v", "type": "quantitative"}, "text": {"field": "v", "type": "quantitative", "format": ".2f"}}},
{"data": {"name": "last"}, "mark": {"type": "text", "align": "left", "baseline": "alphabetic", "fontSize": 21, "fontWeight": "bold", "color": "#8c8c8c", "font": "Open Sans"},
 "encoding": {"x": {"datum": 19, "type": "quantitative"}, "y": {"datum": 104.45, "type": "quantitative"}, "text": {"value": "X"}}},
{"data": {"name": "last"}, "mark": {"type": "text", "align": "left", "baseline": "alphabetic", "fontSize": 23, "color": "#ffffff", "font": "Open Sans"},
 "encoding": {"x": {"datum": 57, "type": "quantitative"}, "y": {"datum": 104.45, "type": "quantitative"}, "text": {"value": "NASI"}}},
{"data": {"name": "last"}, "mark": {"type": "text", "align": "left", "baseline": "alphabetic", "fontSize": 23, "color": "#d40000", "font": "Open Sans"},
 "encoding": {"x": {"datum": 149, "type": "quantitative"}, "y": {"datum": 104.45, "type": "quantitative"}, "text": {"value": "Moving Average 5"}}},
{"data": {"name": "last"}, "mark": {"type": "point", "shape": "M-1,-0.6L1,-0.6L0,0.6Z", "filled": true, "color": "#8c8c8c", "size": 121, "opacity": 1},
 "encoding": {"x": {"datum": 127.2, "type": "quantitative"}, "y": {"datum": 106.6, "type": "quantitative"}}},
{"data": {"name": "last"}, "mark": {"type": "point", "shape": "M-1,-0.6L1,-0.6L0,0.6Z", "filled": true, "color": "#8c8c8c", "size": 121, "opacity": 1},
 "encoding": {"x": {"datum": 359.7, "type": "quantitative"}, "y": {"datum": 106.6, "type": "quantitative"}}},
{"data": {"name": "last"}, "mark": {"type": "rule", "color": "#1c1c1c", "strokeWidth": 3},
 "encoding": {"x": {"datum": 3508.5, "type": "quantitative"}, "y": {"datum": 111.4, "type": "quantitative"}, "y2": {"datum": -7.83}}}
]
}
